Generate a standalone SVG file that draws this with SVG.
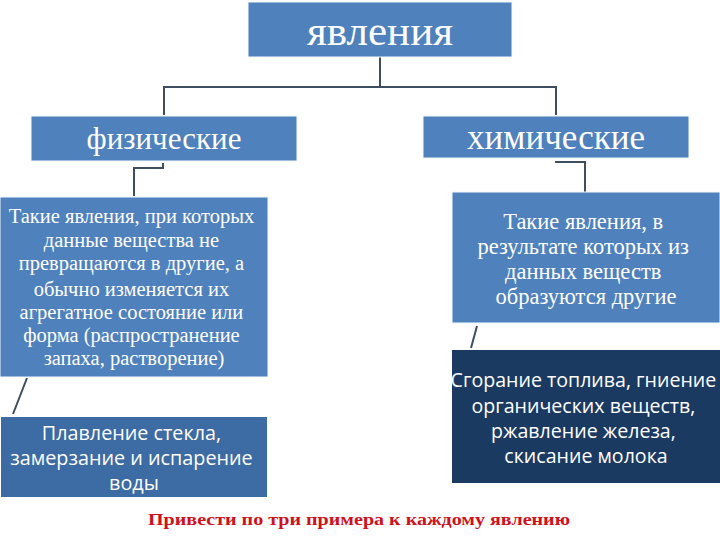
<svg xmlns="http://www.w3.org/2000/svg" width="720" height="540" viewBox="0 0 720 540">
<style>
.box{fill:#4f81bd;stroke:#f4f8fc;stroke-width:1}
.dark{fill:#1b3a62}
.mid{fill:#3d6ba3}
.conn{fill:none;stroke:#3f4d60;stroke-width:2}
</style>
<rect width="720" height="540" fill="#ffffff"/>
<g id="connectors">
<polyline class="conn" points="380,57 380,87"/>
<polyline class="conn" points="164,115 164,87 556,87 556,115"/>
<polyline class="conn" points="163,163 163,168 134,168 134,196"/>
<polyline class="conn" points="555,162 585,162 585,192"/>
<line class="conn" x1="27" y1="378" x2="13" y2="414"/>
<line class="conn" x1="477" y1="326" x2="471" y2="348"/>
</g>
<g font-family="'Liberation Serif','Times New Roman',serif" fill="#ffffff" text-anchor="middle">
<g id="root">
<rect class="box" x="248" y="2" width="264" height="55"/>
<text x="380" y="45" font-size="43">явления</text>
</g>
<g id="physical">
<rect class="box" x="31" y="116" width="266" height="45"/>
<text x="164" y="149" font-size="31">физические</text>
</g>
<g id="chemical">
<rect class="box" x="423" y="116" width="266" height="42"/>
<text x="556" y="149" font-size="35">химические</text>
</g>
<g id="physical-def">
<rect class="box" x="0" y="197" width="268" height="180"/>
<text font-size="20.5">
<tspan x="134" y="223">Такие явления, при которых</tspan>
<tspan x="134" y="247">данные вещества не</tspan>
<tspan x="134" y="270">превращаются в другие, а</tspan>
<tspan x="134" y="296">обычно изменяется их</tspan>
<tspan x="134" y="319">агрегатное состояние или</tspan>
<tspan x="134" y="342">форма (распространение</tspan>
<tspan x="134" y="365">запаха, растворение)</tspan>
</text>
</g>
<g id="chemical-def">
<rect class="box" x="452" y="192" width="268" height="131"/>
<text font-size="22.5">
<tspan x="586" y="229">Такие явления, в</tspan>
<tspan x="586" y="254">результате которых из</tspan>
<tspan x="586" y="279">данных веществ</tspan>
<tspan x="586" y="304">образуются другие</tspan>
</text>
</g>
</g>
<g font-family="'Open Sans','Noto Sans','Liberation Sans',sans-serif" fill="#ffffff" text-anchor="middle">
<g id="physical-ex">
<rect class="mid" x="1" y="417" width="266" height="80"/>
<text font-size="19.8">
<tspan x="134" y="440">Плавление стекла,</tspan>
<tspan x="134" y="465">замерзание и испарение</tspan>
<tspan x="134" y="490">воды</tspan>
</text>
</g>
<g id="chemical-ex">
<rect class="dark" x="452" y="350" width="268" height="133"/>
<text font-size="19.6">
<tspan x="586" y="387">Сгорание топлива, гниение</tspan>
<tspan x="586" y="413">органических веществ,</tspan>
<tspan x="586" y="438">ржавление железа,</tspan>
<tspan x="586" y="463">скисание молока</tspan>
</text>
</g>
</g>
<g id="note">
<text x="359" y="525" font-family="'Liberation Serif','Times New Roman',serif" font-weight="bold" font-size="17" fill="#d0101c" text-anchor="middle" textLength="422" lengthAdjust="spacingAndGlyphs">Привести по три примера к каждому явлению</text>
</g>
</svg>
